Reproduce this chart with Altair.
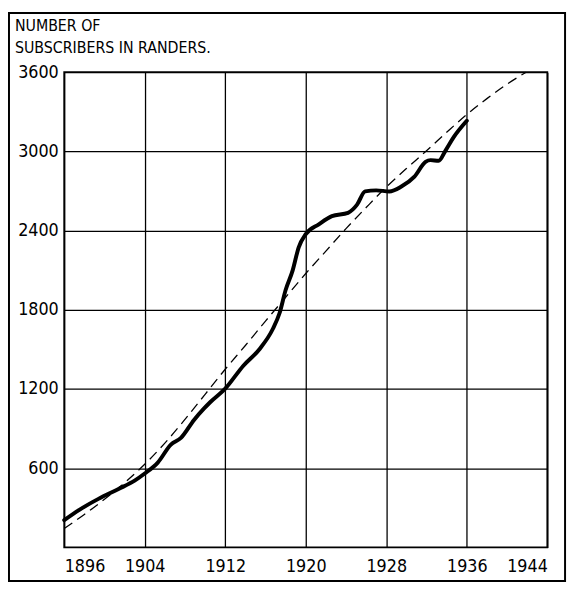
import altair as alt
import pandas as pd

# ---- data ----
years_actual = [1896.0, 1897.5, 1899.4, 1901.4, 1903.0, 1904.0, 1905.3, 1906.6, 1907.6,
                1908.9, 1909.9, 1910.5, 1912.0, 1913.8, 1915.4, 1916.7, 1917.4, 1918.0,
                1918.7, 1919.3, 1920.0, 1921.3, 1922.6, 1924.2, 1925.1, 1925.9, 1927.0,
                1928.3, 1929.5, 1930.8, 1931.9, 1932.4, 1933.2, 1933.9, 1934.7, 1936.0]
subs_actual = [207, 285, 368, 443, 506, 560, 643, 779, 830,
               966, 1053, 1100, 1203, 1377, 1502, 1651, 1776, 1950,
               2099, 2274, 2373, 2448, 2510, 2535, 2597, 2697, 2705,
               2697, 2734, 2809, 2921, 2934, 2929, 3008, 3108, 3232]

years_trend = [1896, 1898, 1900, 1902, 1904, 1906, 1908, 1910, 1912, 1914, 1916, 1918,
               1920, 1922, 1924, 1926, 1928, 1930, 1932, 1934, 1936, 1938, 1940, 1941.9]
subs_trend = [144, 250, 365, 490, 630, 790, 970, 1160, 1350, 1530, 1715, 1895,
              2075, 2245, 2415, 2575, 2730, 2870, 3005, 3145, 3280, 3400, 3510, 3600]

x_ticks = [1896, 1904, 1912, 1920, 1928, 1936, 1944]
y_ticks = [600, 1200, 1800, 2400, 3000, 3600]
title_lines = ["NUMBER OF", "SUBSCRIBERS IN RANDERS."]

FONT = "DejaVu Sans Condensed, DejaVu Sans, sans-serif"

actual = pd.DataFrame({"year": years_actual, "subs": subs_actual})
trend = pd.DataFrame({"year": years_trend, "subs": subs_trend})

xscale = alt.Scale(domain=[1896, 1944], nice=False, zero=False)
yscale = alt.Scale(domain=[0, 3600], nice=False, zero=True)

xaxis = alt.Axis(values=x_ticks, format="d", title=None, grid=True, ticks=False,
                 domain=False, labelPadding=10, labelFontSize=18, labelFont=FONT,
                 labelColor="black", gridColor="black", gridWidth=1.3, gridOpacity=1)
yaxis = alt.Axis(values=y_ticks, format="d", title=None, grid=True, ticks=False,
                 domain=False, labelPadding=6, labelFontSize=18, labelFont=FONT,
                 labelColor="black", gridColor="black", gridWidth=1.3, gridOpacity=1)

trend_line = alt.Chart(trend).mark_line(
    color="black", strokeWidth=1.3, strokeDash=[10, 6], interpolate="monotone"
).encode(
    x=alt.X("year:Q", scale=xscale, axis=xaxis),
    y=alt.Y("subs:Q", scale=yscale, axis=yaxis),
)

actual_line = alt.Chart(actual).mark_line(
    color="black", strokeWidth=4, interpolate="monotone", strokeCap="round", strokeJoin="round"
).encode(
    x=alt.X("year:Q", scale=xscale, axis=xaxis),
    y=alt.Y("subs:Q", scale=yscale, axis=yaxis),
)

title1 = alt.Chart(pd.DataFrame({"t": [title_lines[0]]})).mark_text(
    align="left", baseline="middle", font=FONT, fontSize=16, color="black"
).encode(x=alt.value(-50), y=alt.value(-47), text="t:N")

title2 = alt.Chart(pd.DataFrame({"t": [title_lines[1]]})).mark_text(
    align="left", baseline="middle", font=FONT, fontSize=16, color="black"
).encode(x=alt.value(-50), y=alt.value(-25), text="t:N")

frame = alt.Chart(pd.DataFrame({"f": [0]})).mark_rect(
    fillOpacity=0, stroke="black", strokeWidth=2
).encode(x=alt.value(-56), x2=alt.value(508), y=alt.value(-60), y2=alt.value(516))

chart = alt.layer(trend_line, actual_line, title1, title2, frame).properties(
    width=490, height=482,
    background="white",
    autosize=alt.AutoSizeParams(type="none"),
    padding={"left": 57, "top": 61, "right": 22, "bottom": 38},
).configure_view(
    stroke="black", strokeWidth=1.8
)

chart.save("out.html", embed_options={"renderer": "svg", "actions": False})
